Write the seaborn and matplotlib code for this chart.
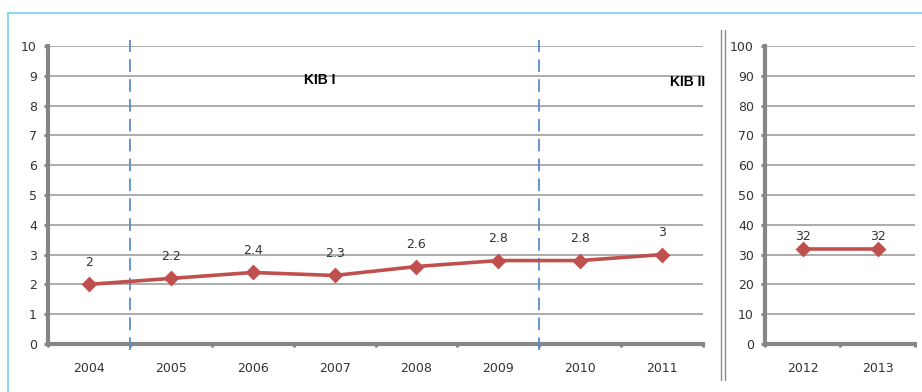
import matplotlib
matplotlib.use("Agg")
import matplotlib.pyplot as plt
from matplotlib.lines import Line2D
import seaborn as sns
import pandas as pd

# KIB I / KIB II yearly values
years_kib1 = ["2004", "2005", "2006", "2007", "2008", "2009", "2010", "2011"]
values_kib1 = [2, 2.2, 2.4, 2.3, 2.6, 2.8, 2.8, 3]
years_kib2 = ["2012", "2013"]
values_kib2 = [32, 32]
label_kib1 = "KIB I"
label_kib2 = "KIB II"

sns.set_theme(style="white")
plt.rcParams["font.family"] = ["DejaVu Sans"]

LINE_RED = "#C0504D"
AXIS_GRAY = "#868686"
GRID_GRAY = "#969696"
TEXT = "#333333"
DASH_BLUE = "#5B8CC8"
FRAME_CYAN = "#8ED6F5"
FS = 9

fig = plt.figure(figsize=(9.22, 3.92), dpi=100)
W, H = 922, 392


def px_rect(x0, x1, y0, y1):
    return [x0 / W, 1 - y1 / H, (x1 - x0) / W, (y1 - y0) / H]


ax1 = fig.add_axes(px_rect(48, 703, 46, 344))
ax2 = fig.add_axes(px_rect(765, 915, 46, 344))

df1 = pd.DataFrame({"year": years_kib1, "value": values_kib1})
df2 = pd.DataFrame({"year": years_kib2, "value": values_kib2})


def style_axes(ax, n, ymax, step):
    ax.set_xlim(-0.5, n - 0.5)
    ax.set_ylim(0, ymax)
    ax.set_yticks(range(0, ymax + 1, step))
    ax.set_xticks(range(n))
    ax.set_xticks([i - 0.5 for i in range(n + 1)], minor=True)
    ax.tick_params(axis="x", which="major", length=0, pad=13,
                   labelsize=FS, labelcolor=TEXT)
    ax.tick_params(axis="x", which="minor", length=2.5, width=2.2,
                   color=AXIS_GRAY, direction="out", bottom=True)
    ax.tick_params(axis="y", length=3, width=2.2, color=AXIS_GRAY,
                   direction="out", left=True, labelsize=FS,
                   labelcolor=TEXT, pad=5)
    ax.yaxis.grid(True, color=GRID_GRAY, linewidth=1.1)
    ax.xaxis.grid(False)
    ax.set_axisbelow(True)
    for side in ("top", "right"):
        ax.spines[side].set_visible(False)
    for side in ("left", "bottom"):
        ax.spines[side].set_color(AXIS_GRAY)
        ax.spines[side].set_linewidth(3)
    ax.set_xlabel("")
    ax.set_ylabel("")


for ax, df in ((ax1, df1), (ax2, df2)):
    sns.pointplot(data=df, x="year", y="value", ax=ax, color=LINE_RED,
                  markers="D", markersize=6.5, linewidth=2.6, zorder=5)

style_axes(ax1, len(years_kib1), 10, 1)
style_axes(ax2, len(years_kib2), 100, 10)

# value labels
for i, v in enumerate(values_kib1):
    ax1.annotate(f"{v:g}", (i, v), xytext=(0, 16), textcoords="offset points",
                 ha="center", va="center", fontsize=FS, color=TEXT)
for i, v in enumerate(values_kib2):
    ax2.annotate(f"{v:g}", (i, v), xytext=(0, 9), textcoords="offset points",
                 ha="center", va="center", fontsize=FS, color=TEXT)

# period boundaries
for xb in (0.5, 5.5):
    ax1.axvline(xb, ymin=-0.02, ymax=1.02, color=DASH_BLUE, linewidth=1.3,
                linestyle=(0, (7, 4)), clip_on=False, zorder=3)

fig.text(320 / W, 1 - 80 / H, label_kib1, ha="center", va="center",
         fontsize=10, fontweight="bold", color="black",
         family=["Liberation Sans"])
fig.text(688 / W, 1 - 82 / H, label_kib2, ha="center", va="center",
         fontsize=10, fontweight="bold", color="black",
         family=["Liberation Sans"])

# double separator between the two panels
for xs in (721, 724.5):
    fig.add_artist(Line2D([xs / W, xs / W], [1 - 30 / H, 1 - 380 / H],
                          transform=fig.transFigure, color="#8A8A8A",
                          linewidth=1.0))

# outer frame (top and left edges)
fig.add_artist(Line2D([8 / W, 8 / W], [1 - 13 / H, 0], transform=fig.transFigure,
                      color=FRAME_CYAN, linewidth=1.5))
fig.add_artist(Line2D([8 / W, 1], [1 - 13 / H, 1 - 13 / H],
                      transform=fig.transFigure, color=FRAME_CYAN, linewidth=1.5))

fig.savefig("out.png", dpi=100)
